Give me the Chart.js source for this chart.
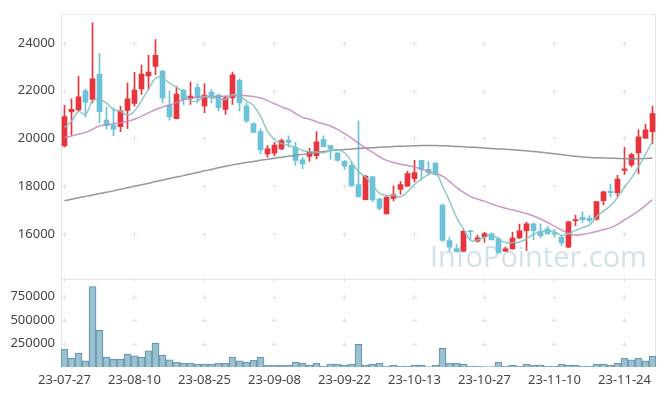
<!DOCTYPE html>
<html lang="ko">
<head>
<meta charset="UTF-8">
<title>Stock chart</title>
<script src="https://cdn.jsdelivr.net/npm/chart.js"></script>
<style>
  html, body { margin: 0; padding: 0; background: #fff; }
</style>
</head>
<body>
<canvas id="myChart" width="665" height="396"></canvas>
<script>
// trading days (KRX)
var dates = ['23-07-27','23-07-28','23-07-31','23-08-01','23-08-02','23-08-03','23-08-04','23-08-07','23-08-08','23-08-09',
  '23-08-10','23-08-11','23-08-14','23-08-16','23-08-17','23-08-18','23-08-21','23-08-22','23-08-23','23-08-24',
  '23-08-25','23-08-28','23-08-29','23-08-30','23-08-31','23-09-01','23-09-04','23-09-05','23-09-06','23-09-07',
  '23-09-08','23-09-11','23-09-12','23-09-13','23-09-14','23-09-15','23-09-18','23-09-19','23-09-20','23-09-21',
  '23-09-22','23-09-25','23-09-26','23-09-27','23-10-04','23-10-05','23-10-06','23-10-10','23-10-11','23-10-12',
  '23-10-13','23-10-16','23-10-17','23-10-18','23-10-19','23-10-20','23-10-23','23-10-24','23-10-25','23-10-26',
  '23-10-27','23-10-30','23-10-31','23-11-01','23-11-02','23-11-03','23-11-06','23-11-07','23-11-08','23-11-09',
  '23-11-10','23-11-13','23-11-14','23-11-15','23-11-16','23-11-17','23-11-20','23-11-21','23-11-22','23-11-23',
  '23-11-24','23-11-27','23-11-28','23-11-29','23-11-30'];

var opens = [19680,21110,21190,21990,21630,22690,20770,20550,20490,21170,
  21460,22070,22620,23010,22820,21400,20830,22020,21660,22140,
  21355,21940,21810,21215,21700,22430,21355,20620,20290,19350,
  19380,19557,19930,19627,19100,19240,19280,19946,19700,19380,
  19035,18870,18065,17430,18384,17460,16837,17484,17857,18000,
  18313,19075,18700,18964,17210,15720,15385,15270,16130,15690,
  15870,16010,15785,15274,15370,15826,16130,16420,16100,16210,
  16050,15850,15440,16550,16690,16650,16610,17390,17790,17730,
  18660,18893,19391,20012,20277];

var closes = [20912,21215,21740,21520,22490,21120,20530,20390,21150,21660,
  22020,22690,22780,23480,21700,20900,21860,21630,21770,21700,
  21810,21700,21285,21700,22665,21490,20730,20250,19515,19557,
  19720,19905,19835,19075,18935,19450,19860,19655,19557,19075,
  18840,18010,17555,18425,17420,17070,17526,17650,18065,18520,
  18562,18700,18560,18480,15720,15440,15250,16100,16090,15830,
  16010,15760,15205,15370,15826,16130,16420,16130,15920,16000,
  16000,15615,16500,16600,16590,16560,17350,17760,17730,18290,
  18728,19324,20070,20360,21036];

var highs = [21380,21660,22600,22070,24840,23560,21310,21280,21355,22320,
  22770,23070,23480,24145,22850,21980,22180,22050,22360,22290,
  22290,22040,21870,21770,22780,22490,21490,20660,20415,19700,
  19835,19970,20110,19834,19212,19585,20280,20110,19720,19420,
  19080,19000,20730,18450,18400,17500,17620,18010,18205,18620,
  19075,19080,19030,18990,17250,15860,15550,16170,16150,15940,
  16060,16040,15860,15450,16060,16410,16490,16450,16420,16310,
  16190,15950,16520,16780,16920,16770,17360,17790,18080,18450,
  19627,19380,20360,20590,21355];

var lows = [19640,20140,21150,20900,21490,20660,20390,20110,20280,20410,
  21350,21840,22040,22670,21490,20760,20820,21420,21420,21490,
  21080,21490,21150,21000,21420,21150,20660,20240,19350,19210,
  19280,19530,19630,18870,18730,19035,19140,19640,19117,19040,
  18700,18000,17540,17420,17350,17000,16830,17376,17650,17990,
  18176,18250,18480,18460,15690,15270,15240,15260,15740,15650,
  15650,15740,15200,15260,15360,15800,15300,15760,15830,15990,
  15860,15510,15420,16340,16480,16480,16570,17210,17550,17550,
  18495,18800,18520,20000,19764];

var ma5 = [20456,20720,21120,21000,21575,21617,21480,21210,21136,20970,
  21150,21582,22060,22526,22534,22310,22144,21914,21572,21572,
  21754,21722,21653,21639,21832,21768,21574,21367,20930,20308,
  19954,19789,19706,19618,19494,19440,19431,19395,19491,19519,
  19397,19027,18607,18381,18050,17696,17599,17618,17546,17766,
  18065,18299,18481,18564,18004,17380,16690,16198,15720,15742,
  15856,15958,15779,15635,15634,15658,15790,15975,16085,16120,
  16094,15933,16007,16143,16261,16373,16720,16952,17178,17518,
  17952,18346,18808,19334,19884];

var ma20 = [20040,20100,20170,20250,20380,20520,20570,20610,20660,20720,
  20800,20930,21070,21210,21310,21400,21500,21620,21680,21730,
  21740,21750,21760,21770,21780,21790,21790,21750,21700,21580,
  21450,21320,21220,21050,20880,20800,20700,20610,20520,20380,
  20200,20010,19800,19600,19420,19230,19080,18990,18920,18860,
  18800,18700,18610,18530,18420,18200,17950,17740,17560,17460,
  17370,17250,17160,17070,17000,16930,16850,16750,16620,16480,
  16320,16160,16020,15940,15980,16030,16100,16180,16260,16400,
  16590,16760,16960,17190,17440];

var ma120 = [17390,17450,17510,17570,17630,17690,17740,17800,17870,17930,
  18000,18060,18120,18190,18250,18320,18380,18440,18510,18570,
  18640,18700,18770,18830,18890,18940,18990,19030,19080,19120,
  19170,19210,19250,19290,19330,19370,19410,19450,19490,19510,
  19530,19560,19580,19600,19610,19630,19640,19660,19670,19680,
  19690,19700,19700,19700,19690,19680,19660,19650,19630,19620,
  19600,19580,19560,19540,19520,19500,19480,19450,19420,19390,
  19360,19320,19280,19250,19220,19200,19190,19180,19170,19160,
  19150,19150,19150,19160,19170];

var volumes = [190000,95000,148000,66000,858000,393000,105000,84000,84000,137000,
  119000,105000,172000,253000,126000,77000,53000,42000,42000,32000,
  32000,32000,42000,42000,105000,66000,53000,74000,105000,18000,
  18000,18000,18000,53000,42000,21000,42000,10000,32000,32000,
  21000,32000,243000,21000,32000,42000,10000,21000,10000,10000,
  21000,21000,3000,21000,200000,42000,42000,32000,10000,10000,
  3000,3000,53000,10000,21000,10000,32000,21000,21000,10000,
  10000,32000,21000,21000,10000,10000,32000,32000,21000,42000,
  95000,77000,95000,66000,116000];

var priceTicks = [16000, 18000, 20000, 22000, 24000];
var volumeTicks = [250000, 500000, 750000];

var UP = '#e8353d';
var DOWN = '#6cc3d9';

var bodies = [];
var wicks = [];
var candleColors = [];
for (let i = 0; i < dates.length; i++) {
  bodies.push([opens[i], closes[i]]);
  wicks.push([lows[i], highs[i]]);
  candleColors.push(closes[i] >= opens[i] ? UP : DOWN);
}

// frame, grid crosses and watermark
var decor = {
  id: 'decor',
  beforeDatasetsDraw(chart) {
    const ctx = chart.ctx;
    const a = chart.chartArea;
    const x = chart.scales.x, y = chart.scales.y, yv = chart.scales.yv;
    ctx.save();

    var txt = 'InfoPointer.com';
    ctx.font = '32px "Open Sans"';
    var fs = 32 * 217 / ctx.measureText(txt).width;
    ctx.font = fs + 'px "Open Sans"';
    ctx.fillStyle = 'rgba(178, 205, 220, 0.6)';
    ctx.textAlign = 'left';
    ctx.textBaseline = 'alphabetic';
    ctx.fillText(txt, 430, 267);

    ctx.strokeStyle = '#e3e3e3';
    ctx.lineWidth = 1;
    var ys = priceTicks.map(v => y.getPixelForValue(v)).concat(volumeTicks.map(v => yv.getPixelForValue(v)));
    ys.push(y.bottom);
    for (let i = 0; i < dates.length; i += 10) {
      var px = Math.round(x.getPixelForValue(i)) - 0.5;
      ys.forEach(function (py) {
        py = Math.round(py) + 0.5;
        ctx.beginPath();
        ctx.moveTo(px - 2.5, py); ctx.lineTo(px + 2.5, py);
        ctx.moveTo(px, py - 2.5); ctx.lineTo(px, py + 2.5);
        ctx.stroke();
      });
    }

    ctx.strokeStyle = '#e6e6e6';
    ctx.strokeRect(a.left + 0.5, a.top + 0.5, a.right - a.left - 1, a.bottom - a.top - 1);
    var sy = Math.round(y.bottom) + 0.5;
    ctx.beginPath();
    ctx.moveTo(a.left, sy); ctx.lineTo(a.right, sy);
    ctx.stroke();
    ctx.restore();
  }
};

var tickFont = { family: 'Noto Sans', size: 13 };
var plainNumber = function (v) { return String(v); };

new Chart(document.getElementById('myChart'), {
  type: 'bar',
  data: {
    labels: dates,
    datasets: [
      { type: 'line', label: 'MA5', data: ma5, yAxisID: 'y', borderColor: 'rgba(130,196,190,0.9)', borderWidth: 1.5, pointRadius: 0, tension: 0.4, order: 1 },
      { type: 'line', label: 'MA20', data: ma20, yAxisID: 'y', borderColor: 'rgba(196,130,190,0.85)', borderWidth: 1.5, pointRadius: 0, tension: 0.4, order: 1 },
      { type: 'line', label: 'MA120', data: ma120, yAxisID: 'y', borderColor: 'rgba(140,140,140,0.9)', borderWidth: 1.5, pointRadius: 0, tension: 0.4, order: 1 },
      { label: 'body', data: bodies, yAxisID: 'y', backgroundColor: candleColors, barThickness: 5, grouped: false, order: 2 },
      { label: 'wick', data: wicks, yAxisID: 'y', backgroundColor: candleColors, barThickness: 1, grouped: false, order: 3 },
      { label: 'volume', data: volumes, yAxisID: 'yv', backgroundColor: 'rgba(145,187,204,0.9)', borderColor: '#6394ab', borderWidth: 1,
        barPercentage: 1, categoryPercentage: 1, grouped: false, order: 4 }
    ]
  },
  options: {
    responsive: false,
    animation: false,
    layout: { padding: { top: 10, right: 9, left: 0, bottom: 0 } },
    plugins: { legend: { display: false }, tooltip: { enabled: false } },
    scales: {
      x: {
        type: 'category',
        offset: true,
        grid: { display: false, drawTicks: false },
        border: { display: false },
        afterFit: function (s) { s.height = 29; },
        ticks: {
          autoSkip: false, maxRotation: 0, padding: 5, color: '#444', font: tickFont,
          callback: function (val, idx) { return idx % 10 === 0 ? dates[idx] : null; }
        }
      },
      yv: {
        position: 'left', stack: 'panes', stackWeight: 89,
        min: 0, max: 940000,
        grid: { display: false, drawTicks: false },
        border: { display: false },
        afterFit: function (s) { s.width = 61; },
        afterBuildTicks: function (s) { s.ticks = volumeTicks.map(v => ({ value: v })); },
        ticks: { padding: 6, color: '#444', font: tickFont, callback: plainNumber }
      },
      y: {
        position: 'left', stack: 'panes', stackWeight: 268,
        min: 14110, max: 25220,
        grid: { display: false, drawTicks: false },
        border: { display: false },
        afterFit: function (s) { s.width = 61; },
        afterBuildTicks: function (s) { s.ticks = priceTicks.map(v => ({ value: v })); },
        ticks: { padding: 6, color: '#444', font: tickFont, callback: plainNumber }
      }
    }
  },
  plugins: [decor]
});
</script>
</body>
</html>
